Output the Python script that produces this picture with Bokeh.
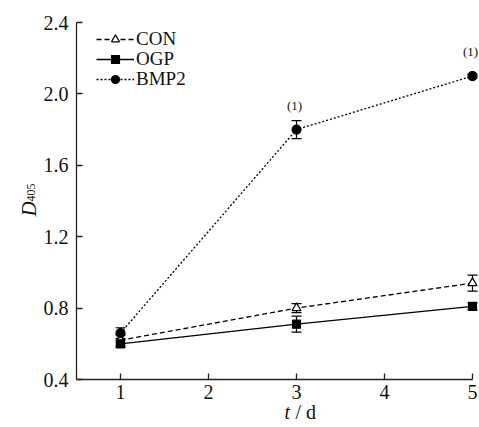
import math
from bokeh.plotting import figure
from bokeh.models import (Range1d, FixedTicker, Whisker, ColumnDataSource, Label,
                          LabelSet, Legend, LegendItem, TeeHead)
from bokeh.embed import file_html
from bokeh.resources import INLINE

# ---- data ----
days = [1, 3, 5]
con = [0.62, 0.80, 0.94]
con_err = [0.03, 0.025, 0.045]
ogp = [0.60, 0.71, 0.81]
ogp_err = [0.02, 0.045, 0.02]
bmp2 = [0.66, 1.80, 2.10]
bmp2_err = [0.03, 0.05, 0.01]
sig_days = [3, 5]
sig_vals = [1.80, 2.10]
sig_text = ["(1)", "(1)"]
x_ticks = [1, 2, 3, 4, 5]
y_ticks = [0.4, 0.8, 1.2, 1.6, 2.0, 2.4]
y_tick_labels = ["0.4", "0.8", "1.2", "1.6", "2.0", "2.4"]
series_names = ["CON", "OGP", "BMP2"]

FONT = "Liberation Serif"
W, H = 479, 427
# pixel layout of the axes box inside the canvas
AX_LEFT, AX_TOP, AX_BOTTOM = 76, 22, 379
PX_X = 88.0     # pixels per day
PX_Y = 178.5    # pixels per unit of D405

x0 = x_ticks[0] - 0.5
y0, y1 = y_ticks[0], y_ticks[-1]
x_range = Range1d(x0 - AX_LEFT / PX_X, x0 + (W - AX_LEFT) / PX_X)
y_range = Range1d(y0 - (H - AX_BOTTOM) / PX_Y, y1 + AX_TOP / PX_Y)

p = figure(width=W, height=H, output_backend="svg", toolbar_location=None,
           x_range=x_range, y_range=y_range,
           min_border_left=0, min_border_right=0, min_border_top=0,
           min_border_bottom=0)
p.xgrid.visible = False
p.ygrid.visible = False
p.outline_line_color = None
p.background_fill_color = "white"
p.border_fill_color = "white"

for ax in (p.xaxis[0], p.yaxis[0]):
    ax.axis_line_color = "#222222"
    ax.axis_line_width = 1.3
    ax.major_tick_line_color = "#222222"
    ax.major_tick_line_width = 1.3
    ax.major_tick_in = 6
    ax.major_tick_out = 0
    ax.minor_tick_line_color = None
    ax.major_label_text_font = FONT
    ax.major_label_text_font_size = "20px"
    ax.major_label_text_color = "#111111"
    ax.axis_label = None

p.xaxis.ticker = FixedTicker(ticks=x_ticks)
p.xaxis.bounds = (x0, x_ticks[-1])
p.xaxis.fixed_location = y0
p.xaxis.major_label_standoff = 5
p.yaxis.ticker = FixedTicker(ticks=y_ticks)
p.yaxis.major_label_overrides = {t: s for t, s in zip(y_ticks, y_tick_labels)}
p.yaxis.bounds = (y0, y1)
p.yaxis.fixed_location = x0
p.yaxis.major_label_standoff = 8

def add_series(vals, errs, dash, marker, size, fill):
    src = ColumnDataSource(dict(x=days, y=vals,
                                lo=[v - e for v, e in zip(vals, errs)],
                                hi=[v + e for v, e in zip(vals, errs)]))
    w = Whisker(source=src, base="x", upper="hi", lower="lo",
                line_color="black", line_width=1.2,
                upper_head=TeeHead(size=10, line_color="black", line_width=1.2),
                lower_head=TeeHead(size=10, line_color="black", line_width=1.2))
    p.add_layout(w)
    lr = p.line("x", "y", source=src, line_color="black", line_width=1.3,
                line_dash=dash)
    sr = p.scatter("x", "y", source=src, marker=marker, size=size,
                   line_color="black", fill_color=fill, line_width=1.2)
    return [lr, sr]

r_con = add_series(con, con_err, "5 3", "triangle", 9, "white")
r_ogp = add_series(ogp, ogp_err, "solid", "square", 8, "black")
r_bmp = add_series(bmp2, bmp2_err, "2 2", "circle", 9, "black")

sig_src = ColumnDataSource(dict(x=sig_days, y=sig_vals, t=sig_text))
p.add_layout(LabelSet(source=sig_src, x="x", y="y", text="t", y_offset=17,
                      x_offset=-2, text_align="center", text_font=FONT,
                      text_font_size="13px", text_color="#111111"))

# one legend per row so that the rows sit exactly where the reference has them
row_centers = [40, 60, 80]
for name, rends, yc in zip(series_names, [r_con, r_ogp, r_bmp], row_centers):
    lg = Legend(items=[LegendItem(label=name, renderers=rends)],
                location=(96, H - yc - 10), orientation="vertical",
                glyph_width=38, glyph_height=20, label_height=20,
                label_standoff=2, spacing=0, padding=0, margin=0,
                border_line_color=None, background_fill_alpha=0,
                label_text_font=FONT, label_text_font_size="19px",
                label_text_line_height=0.9,
                label_text_color="#111111", label_text_baseline="middle")
    p.add_layout(lg)

# axis titles (screen units, from the canvas' bottom-left)
p.add_layout(Label(x=284, y=H - 411, x_units="screen", y_units="screen", text="t",
                   text_font=FONT, text_font_style="italic",
                   text_font_size="20px", text_baseline="alphabetic",
                   text_color="#111111"))
p.add_layout(Label(x=295, y=H - 411, x_units="screen", y_units="screen", text="/ d",
                   text_font=FONT, text_font_size="20px",
                   text_baseline="alphabetic", text_color="#111111"))
p.add_layout(Label(x=28, y=H - 216, x_units="screen", y_units="screen", text="D",
                   angle=math.pi / 2, text_font=FONT, text_font_style="italic",
                   text_font_size="21px", text_baseline="alphabetic",
                   text_align="left", text_color="#111111"))
p.add_layout(Label(x=30, y=H - 201, x_units="screen", y_units="screen", text="405",
                   angle=math.pi / 2, text_font=FONT,
                   text_font_size="12px", text_baseline="alphabetic",
                   text_align="left", text_color="#111111"))

open("out.html", "w").write(file_html(p, INLINE))
